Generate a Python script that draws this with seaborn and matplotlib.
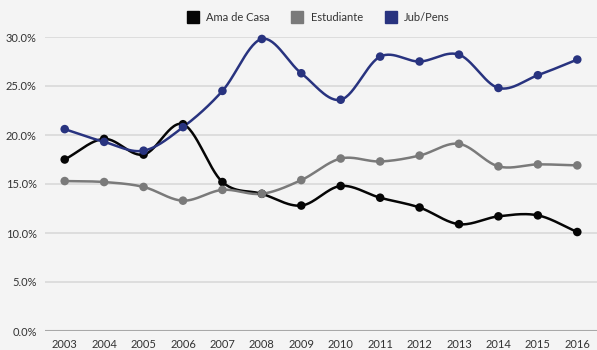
import numpy as np
import pandas as pd
import matplotlib
matplotlib.use("Agg")
import matplotlib.pyplot as plt
import seaborn as sns
from matplotlib.lines import Line2D

years = [2003, 2004, 2005, 2006, 2007, 2008, 2009, 2010, 2011, 2012, 2013, 2014, 2015, 2016]
ama_de_casa = [17.5, 19.6, 18.0, 21.1, 15.2, 14.0, 12.8, 14.8, 13.6, 12.6, 10.9, 11.7, 11.8, 10.1]
estudiante = [15.3, 15.2, 14.7, 13.3, 14.4, 14.0, 15.4, 17.6, 17.3, 17.9, 19.1, 16.8, 17.0, 16.9]
jub_pens = [20.6, 19.3, 18.4, 20.8, 24.5, 29.8, 26.3, 23.6, 28.0, 27.5, 28.2, 24.8, 26.1, 27.7]
series_names = ["Ama de Casa", "Estudiante", "Jub/Pens"]
y_ticks = [0, 5, 10, 15, 20, 25, 30]

colors = {"Ama de Casa": "#050505", "Estudiante": "#7a7a7a", "Jub/Pens": "#28337f"}

sns.set_theme(style="white")
plt.rcParams["font.family"] = ["Lato", "DejaVu Sans"]


def catmull_rom(x, y, n=30):
    x = np.asarray(x, float)
    y = np.asarray(y, float)
    xs, ys = [], []
    for i in range(len(x) - 1):
        y0 = y[i - 1] if i > 0 else y[i]
        y3 = y[i + 2] if i + 2 < len(y) else y[i + 1]
        m1 = (y[i + 1] - y0) / 2 if i > 0 else (y[i + 1] - y[i])
        m2 = (y3 - y[i]) / 2 if i + 2 < len(y) else (y[i + 1] - y[i])
        t = np.linspace(0, 1, n, endpoint=False)
        h00 = 2 * t**3 - 3 * t**2 + 1
        h10 = t**3 - 2 * t**2 + t
        h01 = -2 * t**3 + 3 * t**2
        h11 = t**3 - t**2
        xs.append(x[i] + t * (x[i + 1] - x[i]))
        ys.append(h00 * y[i] + h10 * m1 + h01 * y[i + 1] + h11 * m2)
    xs.append([x[-1]])
    ys.append([y[-1]])
    return np.concatenate(xs), np.concatenate(ys)


pts = pd.DataFrame({
    "year": years * 3,
    "value": ama_de_casa + estudiante + jub_pens,
    "serie": [series_names[0]] * len(years) + [series_names[1]] * len(years) + [series_names[2]] * len(years),
})

smooth_rows = []
for name, vals in zip(series_names, [ama_de_casa, estudiante, jub_pens]):
    sx, sy = catmull_rom(years, vals)
    smooth_rows.append(pd.DataFrame({"year": sx, "value": sy, "serie": name}))
smooth = pd.concat(smooth_rows, ignore_index=True)

fig = plt.figure(figsize=(5.97, 3.5), dpi=100)
fig.patch.set_facecolor("#f4f4f4")
ax = fig.add_axes([45 / 597, 19 / 350, 552 / 597, 294 / 350])
ax.set_facecolor("#f4f4f4")

for v in y_ticks[1:]:
    ax.axhline(v, color="#d9d9d9", lw=1.2, zorder=0)
ax.axhline(0, color="#a8a8a8", lw=1.5, zorder=1)

sns.lineplot(data=smooth, x="year", y="value", hue="serie", palette=colors,
             hue_order=series_names, ax=ax, lw=1.8, legend=False, sort=False,
             estimator=None, zorder=3)
sns.scatterplot(data=pts, x="year", y="value", hue="serie", palette=colors,
                hue_order=series_names, ax=ax, s=38, edgecolor="none",
                legend=False, zorder=4, clip_on=False)

ax.set_xlim(2002.5, 2016.5)
ax.set_ylim(0, 30)
ax.set_xticks(years)
ax.set_xticklabels([str(y) for y in years])
ax.set_yticks(y_ticks)
ax.set_yticklabels([f"{v:.1f}%" for v in y_ticks])
ax.tick_params(axis="both", length=0, labelsize=8, colors="#333333")
ax.tick_params(axis="y", pad=6)
ax.tick_params(axis="x", pad=6)
ax.set_xlabel("")
ax.set_ylabel("")
for s in ax.spines.values():
    s.set_visible(False)

handles = [Line2D([], [], marker="s", color=colors[n], linestyle="none", markersize=9)
           for n in series_names]
fig.legend(handles, series_names, loc="center", bbox_to_anchor=(0.5335, 0.951),
           ncol=3, frameon=False, fontsize=8, handlelength=1.0, handletextpad=0.7,
           columnspacing=2.0, labelcolor="#333333")

fig.savefig("out.png", dpi=100, facecolor=fig.get_facecolor())
